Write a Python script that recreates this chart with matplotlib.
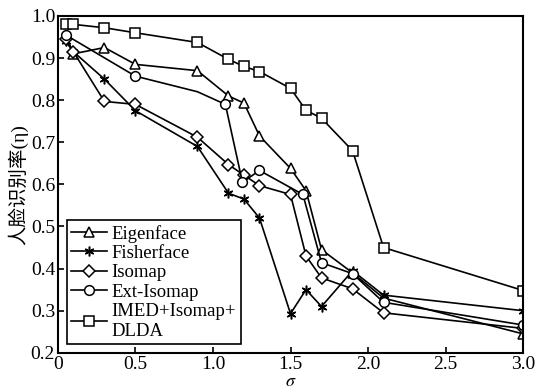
import matplotlib
matplotlib.use("Agg")
import matplotlib.pyplot as plt
from matplotlib.ticker import FuncFormatter

plt.rcParams["font.family"] = ["Liberation Serif", "Noto Sans CJK SC"]
plt.rcParams["mathtext.fontset"] = "stix"
plt.rcParams["font.size"] = 14

sigma = [0.05, 0.1, 0.3, 0.5, 0.9, 1.1, 1.2, 1.3, 1.5, 1.6, 1.7, 1.9, 2.1, 3.0]
eigenface = [0.955, 0.91, 0.925, 0.885, 0.87, 0.81, 0.793, 0.715, 0.638, 0.585, 0.445, 0.39, 0.33, 0.245]
fisherface = [0.94, 0.915, 0.85, 0.775, 0.69, 0.579, 0.565, 0.52, 0.293, 0.35, 0.31, 0.395, 0.337, 0.30]
isomap = [0.945, 0.915, 0.797, 0.79, 0.712, 0.647, 0.622, 0.597, 0.576, 0.43, 0.378, 0.352, 0.295, 0.258]
imed = [0.98, 0.98, 0.972, 0.96, 0.937, 0.897, 0.88, 0.868, 0.828, 0.776, 0.757, 0.68, 0.45, 0.348]

sigma_ext = [0.05, 0.5, 0.9, 1.08, 1.19, 1.3, 1.58, 1.7, 1.9, 2.1, 3.0]
ext_isomap = [0.955, 0.857, 0.82, 0.79, 0.605, 0.633, 0.576, 0.414, 0.388, 0.32, 0.266]
ext_marked = [0, 1, 3, 4, 5, 6, 7, 8, 9, 10]

fig = plt.figure(figsize=(5.36, 3.89), dpi=100)
ax = fig.add_axes([0.108, 0.093, 0.868, 0.866])

style = dict(color="black", lw=1.2, ms=7, mfc="white", mew=1.1)
ax.plot(sigma, eigenface, marker="^", label="Eigenface", **style)
ax.plot(sigma, fisherface, marker=(6, 2, 0), label="Fisherface", **style)
ax.plot(sigma, isomap, marker="D", label="Isomap", **dict(style, ms=6))
ax.plot(sigma_ext, ext_isomap, marker="o", markevery=ext_marked, label="Ext-Isomap", **style)
ax.plot(sigma, imed, marker="s", label="IMED+Isomap+\nDLDA", **style)

ax.set_xlim(0, 3.0)
ax.set_ylim(0.2, 1.0)
ax.set_xticks([0, 0.5, 1.0, 1.5, 2.0, 2.5, 3.0])
ax.set_yticks([0.2, 0.3, 0.4, 0.5, 0.6, 0.7, 0.8, 0.9, 1.0])
ax.xaxis.set_major_formatter(FuncFormatter(lambda v, p: "0" if v == 0 else f"{v:.1f}"))
ax.yaxis.set_major_formatter(FuncFormatter(lambda v, p: f"{v:.1f}"))
ax.tick_params(direction="in", length=4, width=1.2, pad=2, labelsize=14)
for s in ax.spines.values():
    s.set_linewidth(1.5)

ax.set_xlabel(r"$\sigma$", labelpad=0, fontsize=13)
ax.set_ylabel("人脸识别率(η)", labelpad=2)

leg = ax.legend(loc="upper left", bbox_to_anchor=(0.019, 0.394), borderaxespad=0,
                fancybox=False, edgecolor="black", framealpha=1, borderpad=0.25,
                labelspacing=0.12, handlelength=1.9, handletextpad=0.25, fontsize=13.5)
leg.get_frame().set_linewidth(1.2)

fig.savefig("out.png", dpi=100)
